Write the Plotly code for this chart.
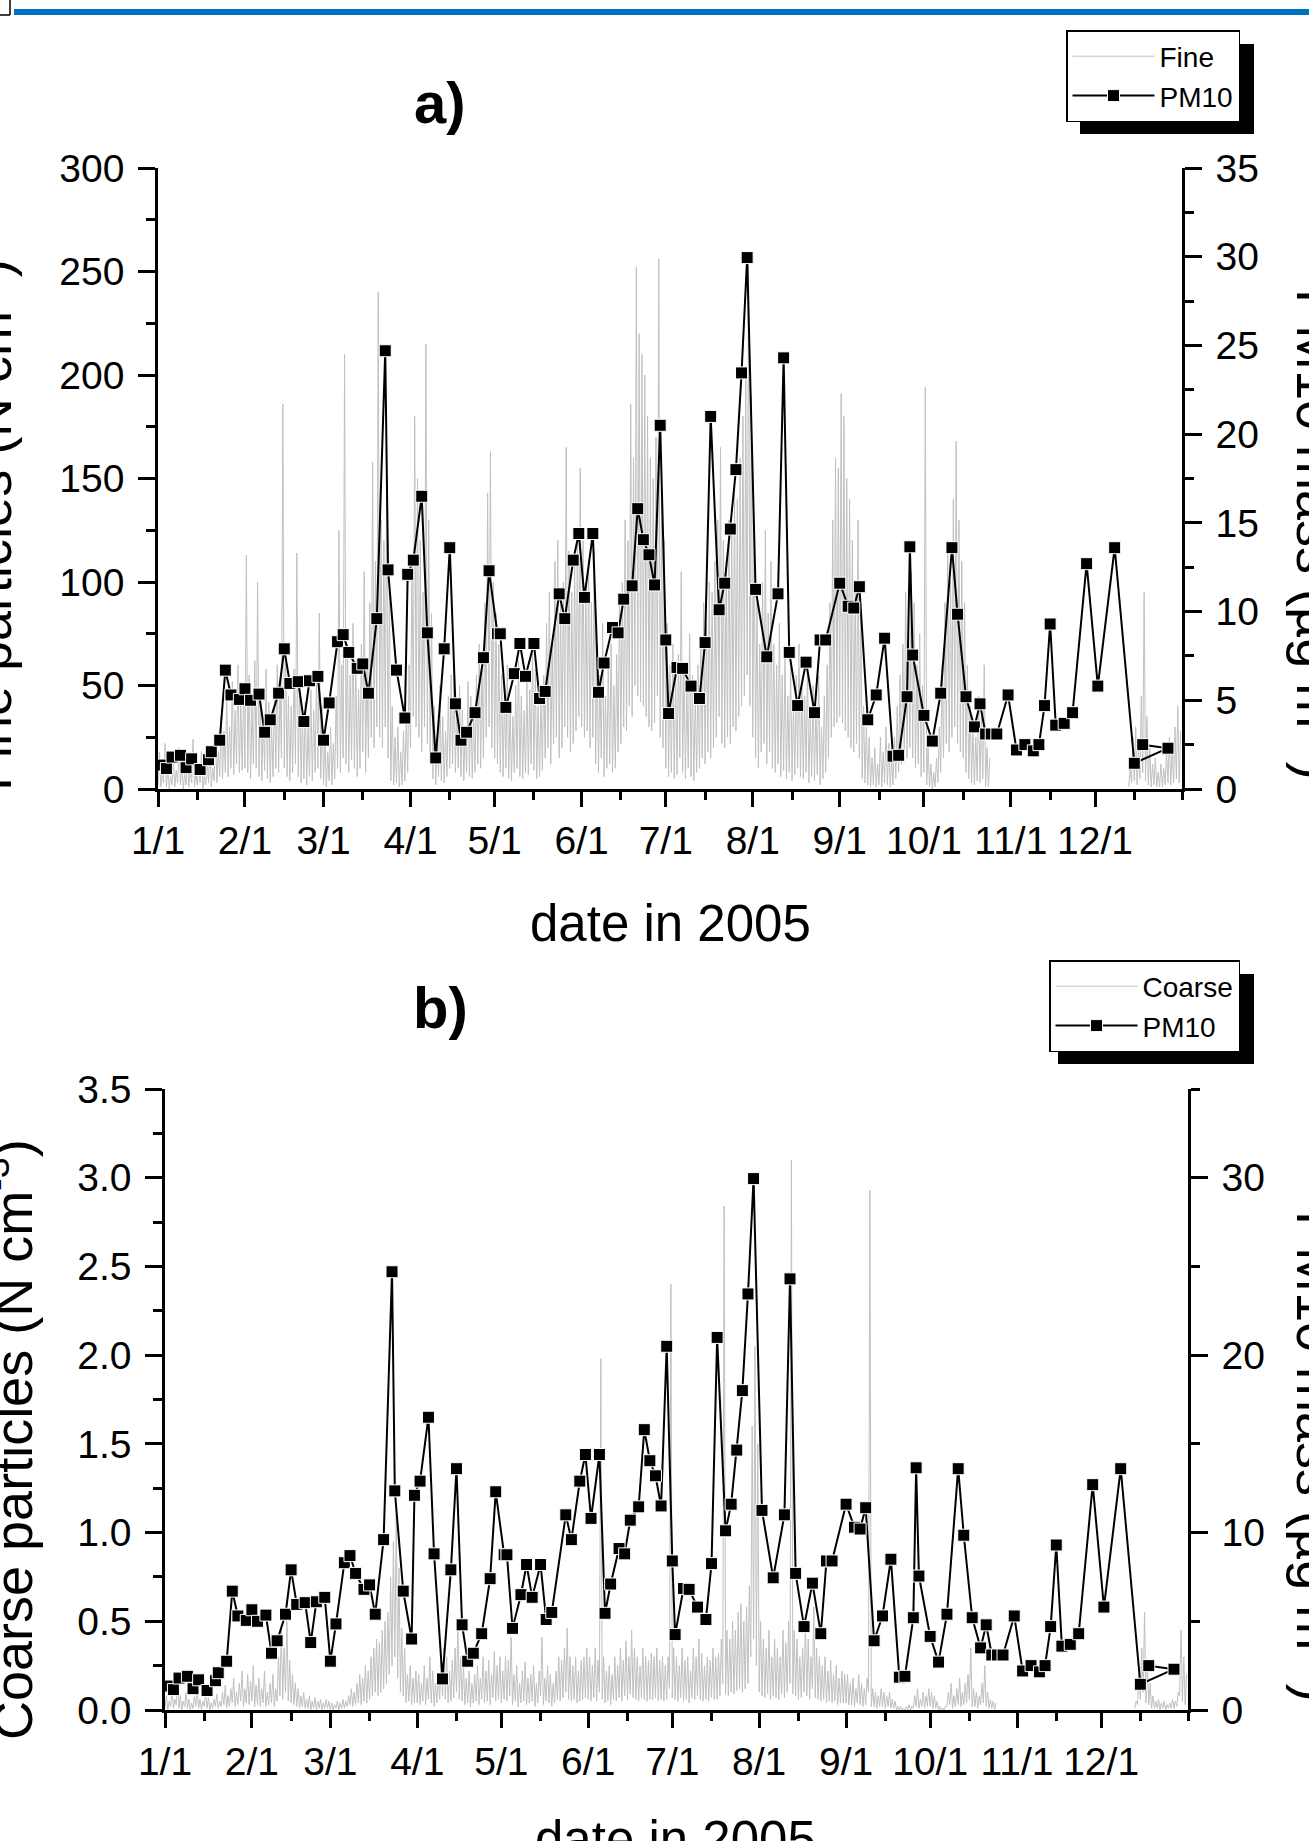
import pandas as pd
import plotly.graph_objects as go

# ---------------- data ----------------
YEAR_START = "2005-01-01"
MONTH_LABELS = ["1/1", "2/1", "3/1", "4/1", "5/1", "6/1",
                "7/1", "8/1", "9/1", "10/1", "11/1", "12/1"]

# PM10 mass (ug m-3): sampling day (days after 1 Jan 2005) and value
PM10_DAY = [1, 3, 5, 8, 10, 12, 15, 18, 19, 22,
            24, 26, 29, 31, 33, 36, 38, 40, 43, 45,
            47, 50, 52, 54, 57, 59, 61, 64, 66, 68,
            71, 73, 75, 78, 81, 82, 85, 88, 89, 91,
            94, 96, 99, 102, 104, 106, 108, 110, 113, 116,
            118, 121, 122, 124, 127, 129, 131, 134, 136, 138,
            143, 145, 148, 150, 152, 155, 157, 159, 162, 164,
            166, 169, 171, 173, 175, 177, 179, 181, 182, 185,
            187, 190, 193, 195, 197, 200, 202, 204, 206, 208,
            210, 213, 217, 221, 223, 225, 228, 231, 234, 236,
            238, 243, 246, 248, 250, 253, 256, 259, 262, 264,
            267, 268, 269, 273, 276, 279, 283, 285, 288, 291,
            293, 295, 297, 299, 303, 306, 309, 312, 314, 316,
            318, 320, 323, 326, 331, 335, 341, 348, 360, 351]
PM10_VALUE = [1.35, 1.15, 1.8, 1.9, 1.2, 1.7, 1.1, 1.65, 2.1, 2.75,
              6.7, 5.3, 5.05, 5.65, 5.0, 5.35, 3.2, 3.9, 5.4, 7.9,
              5.95, 6.05, 3.8, 6.1, 6.35, 2.75, 4.85, 8.3, 8.7, 7.7,
              6.8, 7.05, 5.4, 9.6, 24.7, 12.35, 6.7, 4.0, 12.1, 12.9,
              16.5, 8.8, 1.75, 7.9, 13.6, 4.8, 2.75, 3.2, 4.3, 7.4,
              12.3, 8.75, 8.75, 4.6, 6.5, 8.2, 6.35, 8.2, 5.1, 5.5,
              11.0, 9.6, 12.9, 14.4, 10.8, 14.4, 5.45, 7.1, 9.1, 8.8,
              10.7, 11.45, 15.8, 14.05, 13.2, 11.5, 20.5, 8.4, 4.25, 6.85,
              6.8, 5.8, 5.1, 8.25, 21.0, 10.1, 11.6, 14.65, 18.0, 23.45,
              29.95, 11.25, 7.45, 11.0, 24.3, 7.7, 4.7, 7.15, 4.3, 8.4,
              8.4, 11.6, 10.3, 10.2, 11.4, 3.9, 5.3, 8.5, 1.85, 1.9,
              5.2, 13.65, 7.55, 4.15, 2.7, 5.4, 13.6, 9.85, 5.2, 3.5,
              4.8, 3.1, 3.1, 3.1, 5.3, 2.2, 2.5, 2.15, 2.5, 4.7,
              9.3, 3.6, 3.7, 4.3, 12.7, 5.8, 13.6, 1.45, 2.3, 2.5]

# Fine particles (N cm-3): daily high / low, days 0..296 and 346..364
FINE_START = 0
FINE_HIGH = [
    18, 8, 22, 10, 6, 14, 9, 20, 12, 7, 15, 10, 24, 8, 12, 18, 6, 14, 21, 10, 26, 18, 35, 28, 45, 30, 52, 38, 60, 42, 48,
    113, 55, 40, 62, 100, 48, 35, 58, 42, 30, 45, 60, 52, 186, 70, 45, 40, 58, 114, 50, 35, 42, 30, 48, 38, 55, 85, 40,
    25, 18, 30, 22, 45, 125, 60, 210, 70, 55, 80, 62, 48, 70, 105, 58, 90, 158, 110, 240, 130, 120, 150, 95, 40, 25, 30, 18, 28, 35, 60,
    110, 180, 150, 120, 95, 215, 130, 85, 40, 25, 50, 35, 28, 45, 55, 60, 42, 50, 38, 30, 52, 45, 35, 55, 70, 60, 90, 143, 163, 100,
    85, 70, 55, 45, 60, 40, 35, 50, 62, 45, 38, 52, 48, 70, 58, 40, 45, 55, 80, 95, 70, 110, 120, 90, 100, 165, 115, 95, 110, 125, 155,
    120, 100, 110, 90, 115, 70, 55, 80, 45, 60, 70, 50, 65, 90, 100, 130, 120, 186, 160, 252, 220, 210, 200, 180, 160, 150, 170, 256, 140, 120,
    80, 60, 70, 55, 65, 105, 60, 50, 75, 55, 45, 60, 70, 90, 80, 100, 95, 110, 130, 165, 120, 110, 130, 125, 145, 140, 160, 180, 200, 255, 190,
    130, 90, 70, 100, 125, 85, 110, 70, 60, 80, 55, 65, 45, 60, 40, 55, 70, 50, 45, 60, 35, 50, 40, 55, 30, 45, 60, 90, 130, 160, 155,
    191, 180, 150, 140, 120, 100, 130, 90, 40, 30, 25, 15, 20, 12, 25, 18, 30, 22, 15, 25, 40, 55, 70, 95, 80, 105, 90, 60, 75, 50,
    194, 20, 12, 8, 15, 30, 60, 90, 120, 100, 140, 168, 130, 110, 90, 60, 40, 30, 25, 45, 35, 60, 20, 15,
]
FINE_LOW = [
    2, 1, 3, 1, 0, 2, 1, 3, 2, 0, 2, 1, 3, 1, 2, 3, 0, 2, 3, 1, 4, 3, 6, 5, 8, 6, 10, 7, 12, 8, 9,
    10, 8, 5, 12, 10, 6, 4, 9, 5, 3, 6, 10, 8, 15, 10, 6, 4, 8, 12, 6, 3, 5, 2, 6, 4, 8, 10, 5,
    2, 1, 4, 2, 5, 10, 8, 15, 12, 8, 14, 10, 6, 10, 18, 8, 15, 25, 20, 30, 25, 20, 30, 15, 4, 2, 3, 1, 2, 4, 8,
    20, 35, 30, 25, 18, 30, 22, 12, 5, 2, 6, 4, 3, 6, 10, 12, 8, 10, 6, 4, 8, 6, 5, 8, 12, 10, 15, 25, 30, 20,
    15, 12, 8, 6, 10, 5, 4, 8, 10, 6, 5, 8, 7, 12, 9, 5, 6, 9, 15, 20, 12, 22, 25, 15, 20, 30, 25, 18, 22, 28, 35,
    30, 25, 28, 20, 25, 12, 8, 15, 6, 10, 12, 8, 10, 18, 22, 30, 28, 40, 35, 50, 45, 42, 40, 35, 30, 28, 32, 45, 25, 20,
    10, 6, 8, 5, 7, 15, 8, 5, 10, 6, 4, 8, 10, 15, 12, 18, 15, 20, 25, 35, 22, 20, 25, 22, 30, 28, 35, 40, 45, 55, 40,
    25, 15, 10, 18, 22, 12, 18, 10, 8, 12, 6, 9, 5, 8, 4, 7, 10, 6, 5, 8, 3, 6, 4, 7, 2, 5, 8, 15, 25, 30, 32,
    35, 32, 28, 25, 20, 18, 22, 15, 5, 3, 2, 1, 2, 1, 2, 1, 3, 2, 1, 2, 5, 8, 12, 18, 15, 20, 15, 10, 12, 6,
    8, 2, 1, 0, 1, 3, 8, 15, 22, 18, 25, 30, 22, 18, 15, 8, 5, 3, 2, 4, 3, 5, 1, 1,
]
FINE_DEC_START = 346
FINE_DEC_HIGH = [10, 25, 30, 20, 45, 95, 35, 20, 12, 15, 8, 12, 10, 18, 25, 20, 30, 40, 28]
FINE_DEC_LOW = [1, 3, 4, 2, 5, 8, 4, 2, 1, 2, 1, 1, 1, 2, 3, 2, 3, 5, 3]

# Coarse particles (N cm-3): daily high / low, days 0..296 and 346..364
COARSE_START = 0
COARSE_HIGH = [
    0.08, 0.05, 0.12, 0.06, 0.16, 0.08, 0.05, 0.10, 0.06, 0.04, 0.08, 0.12, 0.06, 0.05, 0.10, 0.07, 0.04, 0.06, 0.09, 0.05,
    0.10, 0.14, 0.08, 0.12, 0.18, 0.10, 0.15, 0.22, 0.12, 0.20, 0.16,
    0.25, 0.14, 0.18, 0.12, 0.22, 0.10, 0.15, 0.20, 0.12, 0.30, 0.48, 0.35, 0.50, 0.28, 0.20, 0.15, 0.12, 0.08, 0.10, 0.06,
    0.08, 0.05, 0.07, 0.05, 0.06, 0.04, 0.06, 0.05,
    0.04, 0.03, 0.05, 0.04, 0.06, 0.05, 0.08, 0.12, 0.10, 0.15, 0.20, 0.18, 0.25, 0.22, 0.30, 0.35, 0.40, 0.38, 0.45, 0.50,
    0.55, 0.75, 0.95, 1.10, 0.80, 0.46, 0.35, 0.20, 0.25, 0.18, 0.22,
    0.20, 0.15, 0.25, 0.18, 0.30, 0.22, 0.15, 0.20, 0.28, 0.35, 0.30, 0.22, 0.28, 0.35, 0.48, 0.30, 0.25, 0.18, 0.22, 0.15,
    0.20, 0.25, 0.18, 0.30, 0.22, 0.28, 0.20, 0.33, 0.25, 0.30,
    0.22, 0.30, 0.28, 0.41, 0.20, 0.25, 0.15, 0.22, 0.27, 0.18, 0.20, 0.25, 0.15, 0.22, 0.41, 0.18, 0.25, 0.20, 0.15, 0.22,
    0.30, 0.28, 0.35, 0.46, 0.30, 0.25, 0.30, 0.22, 0.28, 0.30, 0.35,
    0.30, 0.25, 0.35, 0.28, 1.98, 0.30, 0.22, 0.25, 0.20, 0.30, 0.25, 0.35, 0.28, 0.39, 0.30, 0.45, 0.35, 0.30, 0.25, 0.35,
    0.30, 0.28, 0.32, 0.30, 0.35, 0.28, 0.30, 0.25, 0.30, 2.40,
    0.35, 0.30, 0.25, 0.35, 0.28, 0.30, 0.22, 0.35, 0.30, 0.40, 0.32, 0.25, 0.30, 0.28, 0.35, 0.30, 0.32, 0.40, 2.84, 0.45,
    0.40, 0.50, 0.45, 0.55, 0.60, 0.50, 0.58, 0.70, 1.60, 2.05, 1.50,
    0.50, 0.40, 0.35, 0.45, 0.30, 0.40, 0.35, 0.30, 0.45, 0.38, 0.50, 3.10, 0.45, 0.40, 0.30, 0.35, 0.50, 0.40, 0.30, 0.58,
    0.35, 0.30, 0.25, 0.30, 0.22, 0.28, 0.20, 0.25, 0.18, 0.22, 0.20,
    0.20, 0.15, 0.18, 0.12, 0.20, 0.15, 0.12, 0.18, 2.93, 0.12, 0.10, 0.08, 0.12, 0.10, 0.08, 0.10, 0.06, 0.05, 0.02, 0.02,
    0.01, 0.02, 0.03, 0.02, 0.08, 0.12, 0.06, 0.10, 0.08, 0.12,
    0.10, 0.08, 0.05, 0.02, 0.01, 0.02, 0.10, 0.15, 0.08, 0.12, 0.18, 0.10, 0.15, 0.20, 0.35, 0.12, 0.10, 0.08, 0.15, 0.25,
    0.10, 0.06, 0.05, 0.04,
]
COARSE_LOW = [
    0.01, 0.00, 0.02, 0.01, 0.03, 0.01, 0.00, 0.02, 0.01, 0.00, 0.01, 0.02, 0.01, 0.00, 0.02, 0.01, 0.00, 0.01, 0.02, 0.01,
    0.02, 0.03, 0.01, 0.02, 0.04, 0.02, 0.03, 0.05, 0.02, 0.04, 0.03,
    0.05, 0.02, 0.03, 0.02, 0.04, 0.02, 0.03, 0.04, 0.02, 0.05, 0.08, 0.06, 0.10, 0.05, 0.04, 0.03, 0.02, 0.01, 0.02, 0.01,
    0.01, 0.00, 0.01, 0.00, 0.01, 0.00, 0.01, 0.01,
    0.00, 0.00, 0.01, 0.00, 0.01, 0.01, 0.02, 0.03, 0.02, 0.03, 0.04, 0.03, 0.05, 0.04, 0.06, 0.08, 0.10, 0.08, 0.10, 0.12,
    0.15, 0.20, 0.25, 0.30, 0.18, 0.10, 0.08, 0.04, 0.05, 0.03, 0.04,
    0.04, 0.03, 0.05, 0.03, 0.06, 0.04, 0.02, 0.04, 0.06, 0.08, 0.06, 0.04, 0.05, 0.07, 0.10, 0.06, 0.05, 0.03, 0.04, 0.02,
    0.04, 0.05, 0.03, 0.06, 0.04, 0.05, 0.03, 0.07, 0.05, 0.06,
    0.04, 0.06, 0.05, 0.08, 0.03, 0.05, 0.02, 0.04, 0.05, 0.03, 0.04, 0.05, 0.02, 0.04, 0.08, 0.03, 0.05, 0.04, 0.02, 0.04,
    0.06, 0.05, 0.07, 0.10, 0.06, 0.05, 0.06, 0.04, 0.05, 0.06, 0.07,
    0.06, 0.05, 0.07, 0.05, 0.10, 0.06, 0.04, 0.05, 0.03, 0.06, 0.05, 0.07, 0.05, 0.08, 0.06, 0.09, 0.07, 0.06, 0.05, 0.07,
    0.06, 0.05, 0.06, 0.06, 0.07, 0.05, 0.06, 0.05, 0.06, 0.12,
    0.07, 0.06, 0.05, 0.07, 0.05, 0.06, 0.04, 0.07, 0.06, 0.08, 0.06, 0.05, 0.06, 0.05, 0.07, 0.06, 0.06, 0.08, 0.15, 0.09,
    0.08, 0.10, 0.09, 0.11, 0.12, 0.10, 0.12, 0.15, 0.30, 0.40, 0.25,
    0.10, 0.08, 0.07, 0.09, 0.06, 0.08, 0.07, 0.06, 0.09, 0.07, 0.10, 0.15, 0.09, 0.08, 0.06, 0.07, 0.10, 0.08, 0.06, 0.12,
    0.07, 0.06, 0.05, 0.06, 0.04, 0.05, 0.04, 0.05, 0.03, 0.04, 0.04,
    0.04, 0.03, 0.03, 0.02, 0.04, 0.03, 0.02, 0.03, 0.10, 0.02, 0.02, 0.01, 0.02, 0.02, 0.01, 0.02, 0.01, 0.01, 0.00, 0.00,
    0.00, 0.00, 0.00, 0.00, 0.01, 0.02, 0.01, 0.02, 0.01, 0.02,
    0.02, 0.01, 0.01, 0.00, 0.00, 0.00, 0.02, 0.03, 0.01, 0.02, 0.03, 0.02, 0.03, 0.04, 0.06, 0.02, 0.02, 0.01, 0.03, 0.04,
    0.02, 0.01, 0.01, 0.00,
]
COARSE_DEC_START = 346
COARSE_DEC_HIGH = [0.05, 0.20, 0.35, 0.55, 0.25, 0.15, 0.08, 0.05, 0.06, 0.04, 0.05, 0.03, 0.04, 0.06, 0.05, 0.10, 0.45, 0.30, 0.20]
COARSE_DEC_LOW = [0.01, 0.03, 0.06, 0.10, 0.04, 0.03, 0.01, 0.01, 0.01, 0.00, 0.01, 0.00, 0.01, 0.01, 0.01, 0.02, 0.08, 0.05, 0.03]

assert len(PM10_DAY) == len(PM10_VALUE)
assert len(FINE_HIGH) == len(FINE_LOW) == 297
assert len(COARSE_HIGH) == len(COARSE_LOW) == 297

# ---------------- helpers ----------------
T0 = pd.Timestamp(YEAR_START)


def day_to_str(d):
    return (T0 + pd.Timedelta(days=d)).strftime("%Y-%m-%d %H:%M")


def zigzag(segments):
    xs, ys = [], []
    for start, highs, lows in segments:
        for i, (h, lo) in enumerate(zip(highs, lows)):
            xs.append(day_to_str(start + i))
            ys.append(lo)
            xs.append(day_to_str(start + i + 0.5))
            ys.append(h)
        xs.append(None)
        ys.append(None)
    return xs, ys


W, H = 1309, 1841
FONT = "Liberation Sans, Arial, Helvetica, sans-serif"


def px(x):
    return x / W


def py(y):
    return 1 - y / H


fine_x, fine_y = zigzag([(FINE_START, FINE_HIGH, FINE_LOW),
                         (FINE_DEC_START, FINE_DEC_HIGH, FINE_DEC_LOW)])
coarse_x, coarse_y = zigzag([(COARSE_START, COARSE_HIGH, COARSE_LOW),
                             (COARSE_DEC_START, COARSE_DEC_HIGH, COARSE_DEC_LOW)])
pm_x = [day_to_str(d) for d in PM10_DAY]

GRAY = "#c0c0c0"
pm_line = dict(color="black", width=2)
pm_marker = dict(symbol="square", size=12, color="black", line=dict(color="white", width=1))

fig = go.Figure()
fig.add_trace(go.Scatter(x=fine_x, y=fine_y, mode="lines", name="Fine",
                         line=dict(color=GRAY, width=1), xaxis="x", yaxis="y",
                         legend="legend"))
fig.add_trace(go.Scatter(x=pm_x, y=PM10_VALUE, mode="lines+markers", name="PM10",
                         line=pm_line, marker=pm_marker, xaxis="x", yaxis="y2",
                         legend="legend"))
fig.add_trace(go.Scatter(x=coarse_x, y=coarse_y, mode="lines", name="Coarse",
                         line=dict(color=GRAY, width=1), xaxis="x3", yaxis="y3",
                         legend="legend2"))
fig.add_trace(go.Scatter(x=pm_x, y=PM10_VALUE, mode="lines+markers", name="PM10",
                         line=pm_line, marker=pm_marker, xaxis="x3", yaxis="y4",
                         legend="legend2"))

month_vals = [f"2005-{m:02d}-01" for m in range(1, 13)]
mid_vals = [f"2005-{m:02d}-15" for m in range(1, 13)] + ["2006-01-01"]
x_range = ["2005-01-01", "2006-01-01"]

TICKFONT = dict(family=FONT, size=39, color="black")
LW = 2.5


def x_bottom(domain, anchor):
    return dict(domain=domain, anchor=anchor, type="date", range=x_range,
                tickmode="array", tickvals=month_vals, ticktext=MONTH_LABELS,
                ticks="outside", ticklen=15, tickwidth=LW, tickcolor="black",
                showline=True, linecolor="black", linewidth=LW,
                showgrid=False, zeroline=False, tickfont=TICKFONT,
                minor=dict(tickmode="array", tickvals=mid_vals, ticks="outside",
                           ticklen=8, tickwidth=LW, tickcolor="black", showgrid=False),
                automargin=False)


def x_top(overlay, anchor):
    return dict(overlaying=overlay, anchor=anchor, side="top", type="date", range=x_range,
                tickmode="array", tickvals=month_vals, showticklabels=False,
                ticks="inside", ticklen=15, tickwidth=LW, tickcolor="black",
                showline=True, linecolor="black", linewidth=LW,
                showgrid=False, zeroline=False,
                minor=dict(tickmode="array", tickvals=mid_vals, ticks="inside",
                           ticklen=8, tickwidth=LW, tickcolor="black", showgrid=False),
                automargin=False)


def y_axis(domain=None, anchor=None, rng=None, dtick=None, minor_dtick=None,
           side="left", overlaying=None, fmt=None):
    d = dict(anchor=anchor, range=rng, tickmode="linear", tick0=0, dtick=dtick,
             side=side, ticks="outside", ticklen=17, tickwidth=LW, tickcolor="black",
             ticklabelstandoff=6,
             showline=True, linecolor="black", linewidth=LW,
             showgrid=False, zeroline=False, tickfont=TICKFONT,
             minor=dict(tick0=0, dtick=minor_dtick, ticks="outside", ticklen=9,
                        tickwidth=LW, tickcolor="black", showgrid=False),
             automargin=False)
    if domain is not None:
        d["domain"] = domain
    if overlaying is not None:
        d["overlaying"] = overlaying
    if fmt is not None:
        d["tickformat"] = fmt
    return d


top_x = [px(158), px(1182)]
top_y = [py(789), py(168)]
bot_x = [px(165), px(1188)]
bot_y = [py(1710), py(1089)]

legend_style = dict(bgcolor="white", bordercolor="black", borderwidth=1.5,
                    font=dict(family=FONT, size=28, color="black"),
                    xanchor="right", yanchor="top", itemwidth=82,
                    tracegroupgap=0, traceorder="normal")

TITLE_FONT = dict(family=FONT, size=54, color="black")
XTITLE_FONT = dict(family=FONT, size=51, color="black")

fig.update_layout(
    width=W, height=H, autosize=False,
    margin=dict(l=0, r=0, t=0, b=0, pad=0),
    paper_bgcolor="white", plot_bgcolor="white",
    showlegend=True,
    xaxis=x_bottom(top_x, "y"),
    xaxis2=x_top("x", "y"),
    xaxis3=x_bottom(bot_x, "y3"),
    xaxis4=x_top("x3", "y3"),
    yaxis=y_axis(top_y, "x", [0, 300], 50, 25),
    yaxis2=y_axis(None, "x", [0, 35], 5, 2.5, side="right", overlaying="y"),
    yaxis3=y_axis(bot_y, "x3", [0, 3.5], 0.5, 0.25, fmt=".1f"),
    yaxis4=y_axis(None, "x3", [0, 35], 10, 5, side="right", overlaying="y3"),
    legend=dict(x=px(1240), y=py(30), **legend_style),
    legend2=dict(x=px(1240), y=py(960), **legend_style),
    annotations=[
        dict(text="<b>a)</b>", x=px(440), y=py(103), xref="paper", yref="paper",
             xanchor="center", yanchor="middle",
             showarrow=False, font=dict(family=FONT, size=58, color="black")),
        dict(text="<b>b)</b>", x=px(440), y=py(1007), xref="paper", yref="paper",
             xanchor="center", yanchor="middle",
             showarrow=False, font=dict(family=FONT, size=58, color="black")),
        dict(text="date in 2005", x=px(670), y=py(924), xref="paper", yref="paper",
             xanchor="center", yanchor="middle", showarrow=False, font=XTITLE_FONT),
        dict(text="date in 2005", x=px(675), y=py(1839), xref="paper", yref="paper",
             xanchor="center", yanchor="middle", showarrow=False, font=XTITLE_FONT),
        dict(text="Fine particles (N cm<sup>-3</sup>)", x=px(-12), y=py(525),
             xref="paper", yref="paper", showarrow=False, textangle=-90,
             xanchor="center", yanchor="middle", font=TITLE_FONT),
        dict(text="Coarse particles (N cm<sup>-3</sup>)", x=px(9), y=py(1440),
             xref="paper", yref="paper", showarrow=False, textangle=-90,
             xanchor="center", yanchor="middle", font=TITLE_FONT),
        dict(text="PM10 mass (µg m<sup>-3</sup>)", x=px(1320), y=py(534),
             xref="paper", yref="paper", showarrow=False, textangle=90,
             xanchor="center", yanchor="middle", font=TITLE_FONT),
        dict(text="PM10 mass (µg m<sup>-3</sup>)", x=px(1320), y=py(1456),
             xref="paper", yref="paper", showarrow=False, textangle=90,
             xanchor="center", yanchor="middle", font=TITLE_FONT),
    ],
    shapes=[
        # blue page rule at the very top of the screenshot
        dict(type="rect", xref="paper", yref="paper", x0=px(14), x1=1.0,
             y0=py(15), y1=py(9), fillcolor="#0070c0", line=dict(width=0), layer="below"),
        dict(type="line", xref="paper", yref="paper", x0=px(10), x1=px(10),
             y0=py(15), y1=1.0, line=dict(color="black", width=1.5)),
        dict(type="line", xref="paper", yref="paper", x0=0, x1=px(10),
             y0=py(15), y1=py(15), line=dict(color="black", width=1.5)),
        # legend drop shadows
        dict(type="rect", xref="paper", yref="paper", x0=px(1080), x1=px(1254),
             y0=py(134), y1=py(44), fillcolor="black", line=dict(width=0), layer="below"),
        dict(type="rect", xref="paper", yref="paper", x0=px(1058), x1=px(1254),
             y0=py(1064), y1=py(974), fillcolor="black", line=dict(width=0), layer="below"),
    ],
)

fig.write_html("out.html")
